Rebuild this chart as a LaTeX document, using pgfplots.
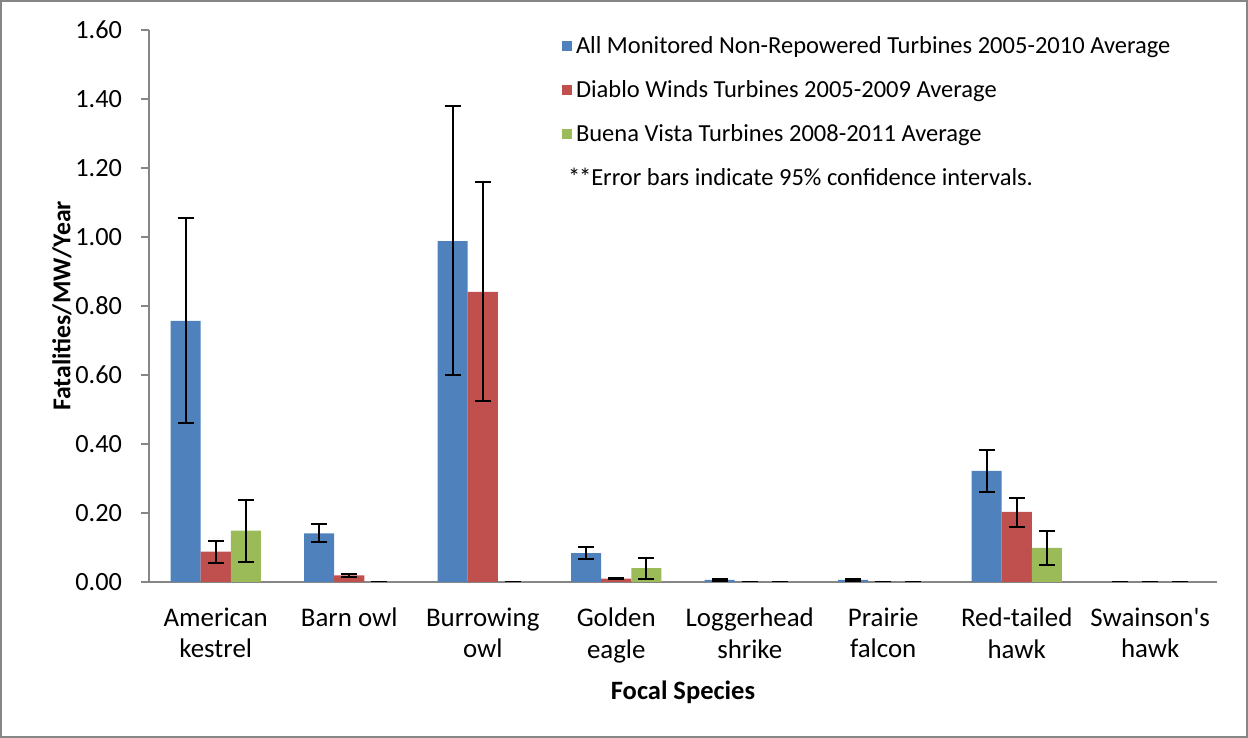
\documentclass[border=0pt]{standalone}
\usepackage{pgfplots}
\pgfplotsset{compat=1.18}
\usepackage{pgfplotstable}
\usepackage{fontspec}
\setmainfont{Carlito}
\definecolor{xblue}{HTML}{4F81BD}
\definecolor{xred}{HTML}{C0504D}
\definecolor{xgreen}{HTML}{9BBB59}
\definecolor{axgray}{HTML}{868686}

\pgfplotstableread{
x y ep em
0 0.757 0.297 0.295
1 0.141 0.028 0.025
2 0.988 0.392 0.387
3 0.084 0.018 0.016
4 0.006 0.002 0.002
5 0.006 0.002 0.002
6 0.322 0.061 0.061
7 0.000 0 0
}\blueT
\pgfplotstableread{
x y ep em
0 0.088 0.031 0.032
1 0.019 0.004 0.004
2 0.841 0.318 0.316
3 0.010 0.002 0.002
4 0.000 0 0
5 0.000 0 0
6 0.203 0.040 0.043
7 0.000 0 0
}\redT
\pgfplotstableread{
x y ep em
0 0.149 0.090 0.090
1 0.000 0 0
2 0.000 0 0
3 0.040 0.030 0.031
4 0.000 0 0
5 0.000 0 0
6 0.099 0.049 0.050
7 0.000 0 0
}\greenT

\begin{document}
\begin{tikzpicture}
\useasboundingbox (0,0) rectangle (624bp,369bp);
\draw[axgray, line width=0.8bp] (0.4bp,0.4bp) rectangle (623.6bp,368.6bp);
\begin{axis}[
  at={(74.5bp,78bp)}, anchor=south west,
  scale only axis, width=534bp, height=276bp,
  ymin=0, ymax=1.6, xmin=-0.5, xmax=7.5,
  axis x line=bottom, axis y line=left,
  axis line style={-, axgray, line width=0.8bp},
  ytick={0,0.2,...,1.6},
  /pgf/number format/assume math mode=true,
  yticklabel style={font=\fontsize{13.2}{16}\selectfont, xshift=-6bp,
    /pgf/number format/fixed, /pgf/number format/fixed zerofill, /pgf/number format/precision=2},
  y tick style={axgray, line width=0.8bp},
  tick align=outside,
  major tick length=4bp,
  xtick={0,...,7},
  x tick style={draw=none},
  minor xtick={-0.5,0.5,...,7.5},
  minor x tick style={axgray, line width=0.8bp},
  minor tick length=4bp,
  xticklabels={{American\\kestrel},{Barn owl},{Burrowing\\owl},{Golden\\eagle},{Loggerhead\\shrike},{Prairie\\falcon},{Red-tailed\\hawk},{Swainson\textquotesingle s\\hawk}},
  xticklabel style={font=\fontsize{13.5}{15.7}\selectfont, align=center, anchor=north, yshift=-5.5bp},
  ylabel={\bfseries Fatalities/MW/Year},
  ylabel style={font=\fontsize{12.9}{15}\selectfont, at={(axis description cs:-0.0815,0.5)}, anchor=center},
  xlabel={\bfseries Focal Species},
  xlabel style={font=\fontsize{13.3}{15}\selectfont, at={(axis description cs:0.5,-0.2),}, anchor=center},
  ybar, bar width=0.225,
  legend style={draw=none, fill=none, at={(axis description cs:0.386,0.997)}, anchor=north west,
    font=\fontsize{12.3}{14}\selectfont, row sep=8bp, inner sep=0pt},
  legend cell align=left,
  legend image code/.code={\fill[#1] (0bp,-2.6bp) rectangle (5.2bp,2.6bp);},
  error bars/error bar style={black, line width=1bp},
  error bars/error mark options={black, rotate=90, mark size=4bp, line width=1bp},
]
\addplot[fill=xblue, draw=none, bar shift=-0.225,
  error bars/.cd, y dir=both, y explicit]
  table[x=x, y=y, y error plus=ep, y error minus=em] {\blueT};
\addlegendentry{All Monitored Non-Repowered Turbines 2005-2010 Average}
\addplot[fill=xred, draw=none, bar shift=0,
  error bars/.cd, y dir=both, y explicit]
  table[x=x, y=y, y error plus=ep, y error minus=em] {\redT};
\addlegendentry{Diablo Winds Turbines 2005-2009 Average}
\addplot[fill=xgreen, draw=none, bar shift=0.225,
  error bars/.cd, y dir=both, y explicit]
  table[x=x, y=y, y error plus=ep, y error minus=em] {\greenT};
\addlegendentry{Buena Vista Turbines 2008-2011 Average}
\addlegendimage{empty legend}
\addlegendentry{\hspace{-4bp}*\kern-0.6bp*Error bars indicate 95\% confidence intervals.}
\end{axis}
\end{tikzpicture}
\end{document}
